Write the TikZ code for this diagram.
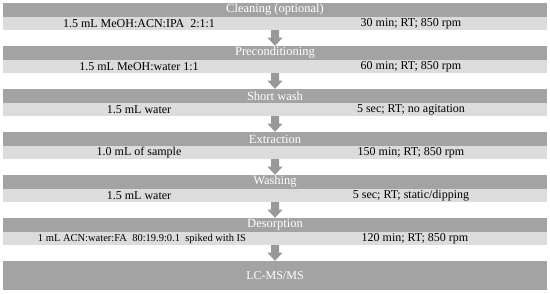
\documentclass[tikz,border=0pt]{standalone}
\usepackage{fontspec}
\setmainfont{Liberation Serif}
\usetikzlibrary{calc}
\definecolor{darkbar}{HTML}{A3A3A3}
\definecolor{lightbar}{HTML}{DCDCDC}
\definecolor{arrowc}{HTML}{999999}
\tikzset{
  titlebar/.style={fill=darkbar, minimum width=544pt, minimum height=14pt, inner sep=0pt,
     text=white, font=\fontsize{12.5}{13}\selectfont, anchor=center},
  infobar/.style={fill=lightbar, minimum width=544pt, minimum height=13pt, inner sep=0pt, anchor=center},
  infotext/.style={font=\fontsize{12}{13}\selectfont, inner sep=0pt, anchor=center},
  smalltext/.style={font=\fontsize{10.5}{11}\selectfont, inner sep=0pt, anchor=center},
  finalbar/.style={fill=darkbar, minimum width=544pt, minimum height=29pt, inner sep=0pt,
     text=white, font=\fontsize{12}{13}\selectfont, anchor=center},
}
\newcommand\flowarr[2]{%
  \fill[arrowc] ($(#1.south)+(-4,0)$) -- ($(#1.south)+(4,0)$) -- ($(#1.south)+(4,7.5)$)
   -- ($(#1.south)+(7.5,7.5)$) -- (#2.north) -- ($(#1.south)+(-7.5,7.5)$)
   -- ($(#1.south)+(-4,7.5)$) -- cycle;}
\begin{document}
\begin{tikzpicture}[x=1pt,y=-1pt]
\useasboundingbox (0,0) rectangle (550,293);
\fill[white] (0,0) rectangle (550,293);
% row 1
\node[titlebar] (d1) at (275,10) {Cleaning (optional)};
\node[infobar] (l1) at (275,23.5) {};
\node[infotext] (t1a) at (139,24) {1.5 mL MeOH:ACN:IPA\ \ 2:1:1};
\node[infotext] (t1b) at (411,24) {30 min; RT;\ 850 rpm};
% row 2
\node[titlebar] (d2) at (275,53) {Preconditioning};
\node[infobar] (l2) at (275,66.5) {};
\node[infotext] (t2a) at (139,67) {1.5 mL MeOH:water\ 1:1};
\node[infotext] (t2b) at (411,67) {60 min; RT;\ 850 rpm};
% row 3
\node[titlebar] (d3) at (275,96) {Short wash};
\node[infobar] (l3) at (275,109.5) {};
\node[infotext] (t3a) at (139,110) {1.5 mL\ water};
\node[infotext] (t3b) at (411,110) {5 sec; RT; no agitation};
% row 4
\node[titlebar] (d4) at (275,139) {Extraction};
\node[infobar] (l4) at (275,152.5) {};
\node[infotext] (t4a) at (139,153) {1.0 mL\ of sample};
\node[infotext] (t4b) at (411,153) {150 min; RT; 850 rpm};
% row 5
\node[titlebar] (d5) at (275,182) {Washing};
\node[infobar] (l5) at (275,195.5) {};
\node[infotext] (t5a) at (139,196) {1.5 mL\ water};
\node[infotext] (t5b) at (411,196) {5 sec; RT;\ static/dipping};
% row 6
\node[titlebar] (d6) at (275,225) {Desorption};
\node[infobar] (l6) at (275,238.5) {};
\node[smalltext] (t6a) at (142,239) {1 mL\ ACN:water:FA\ \ 80:19.9:0.1\ \ spiked with IS};
\node[infotext] (t6b) at (415,239) {120 min; RT;\ 850 rpm};
% final
\node[finalbar] (d7) at (275,275.5) {LC-MS/MS};
% arrows
\flowarr{l1}{d2}
\flowarr{l2}{d3}
\flowarr{l3}{d4}
\flowarr{l4}{d5}
\flowarr{l5}{d6}
\flowarr{l6}{d7}
\end{tikzpicture}
\end{document}
